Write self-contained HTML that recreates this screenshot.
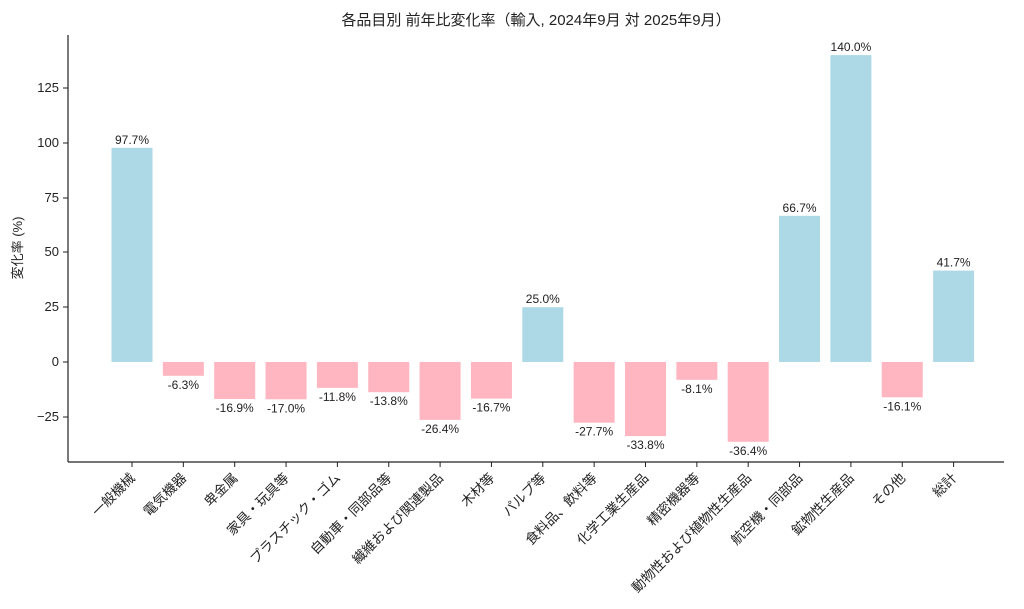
<!DOCTYPE html>
<html><head><meta charset="utf-8"><style>body{margin:0;background:#fff}svg{display:block}text{font-family:"Liberation Sans","Noto Sans CJK JP",sans-serif;fill:#222}</style></head><body>
<svg width="1024" height="609" viewBox="0 0 1024 609" xmlns="http://www.w3.org/2000/svg">
<text x="536" y="25" font-size="15" text-anchor="middle">各品目別 前年比変化率（輸入, 2024年9月 対 2025年9月）</text>
<g>
<rect x="111.5" y="147.8" width="41" height="214.2" fill="#add8e6"/>
<rect x="162.85" y="362" width="41" height="13.8" fill="#ffb6c1"/>
<rect x="214.2" y="362" width="41" height="37.0" fill="#ffb6c1"/>
<rect x="265.55" y="362" width="41" height="37.3" fill="#ffb6c1"/>
<rect x="316.9" y="362" width="41" height="25.9" fill="#ffb6c1"/>
<rect x="368.25" y="362" width="41" height="30.2" fill="#ffb6c1"/>
<rect x="419.6" y="362" width="41" height="57.9" fill="#ffb6c1"/>
<rect x="470.95" y="362" width="41" height="36.6" fill="#ffb6c1"/>
<rect x="522.3" y="307.2" width="41" height="54.8" fill="#add8e6"/>
<rect x="573.65" y="362" width="41" height="60.7" fill="#ffb6c1"/>
<rect x="625" y="362" width="41" height="74.1" fill="#ffb6c1"/>
<rect x="676.35" y="362" width="41" height="17.8" fill="#ffb6c1"/>
<rect x="727.7" y="362" width="41" height="79.8" fill="#ffb6c1"/>
<rect x="779.05" y="215.8" width="41" height="146.2" fill="#add8e6"/>
<rect x="830.4" y="55.1" width="41" height="306.9" fill="#add8e6"/>
<rect x="881.75" y="362" width="41" height="35.3" fill="#ffb6c1"/>
<rect x="933.1" y="270.6" width="41" height="91.4" fill="#add8e6"/>
</g>
<g font-size="12" text-anchor="middle">
<text x="132" y="143.8">97.7%</text>
<text x="183.35" y="388.8">-6.3%</text>
<text x="234.7" y="412">-16.9%</text>
<text x="286.05" y="412.3">-17.0%</text>
<text x="337.4" y="400.9">-11.8%</text>
<text x="388.75" y="405.2">-13.8%</text>
<text x="440.1" y="432.9">-26.4%</text>
<text x="491.45" y="411.6">-16.7%</text>
<text x="542.8" y="303.2">25.0%</text>
<text x="594.15" y="435.7">-27.7%</text>
<text x="645.5" y="449.1">-33.8%</text>
<text x="696.85" y="392.8">-8.1%</text>
<text x="748.2" y="454.8">-36.4%</text>
<text x="799.55" y="211.8">66.7%</text>
<text x="850.9" y="51.1">140.0%</text>
<text x="902.25" y="410.3">-16.1%</text>
<text x="953.6" y="266.6">41.7%</text>
</g>
<g stroke="#222">
<line x1="132" x2="132" y1="462" y2="467"/><line x1="183.35" x2="183.35" y1="462" y2="467"/><line x1="234.7" x2="234.7" y1="462" y2="467"/><line x1="286.05" x2="286.05" y1="462" y2="467"/><line x1="337.4" x2="337.4" y1="462" y2="467"/><line x1="388.75" x2="388.75" y1="462" y2="467"/><line x1="440.1" x2="440.1" y1="462" y2="467"/><line x1="491.45" x2="491.45" y1="462" y2="467"/><line x1="542.8" x2="542.8" y1="462" y2="467"/><line x1="594.15" x2="594.15" y1="462" y2="467"/><line x1="645.5" x2="645.5" y1="462" y2="467"/><line x1="696.85" x2="696.85" y1="462" y2="467"/><line x1="748.2" x2="748.2" y1="462" y2="467"/><line x1="799.55" x2="799.55" y1="462" y2="467"/><line x1="850.9" x2="850.9" y1="462" y2="467"/><line x1="902.25" x2="902.25" y1="462" y2="467"/><line x1="953.6" x2="953.6" y1="462" y2="467"/>
</g>
<g font-size="13.5" text-anchor="end">
<text transform="translate(129,472) rotate(-45)" dominant-baseline="hanging">一般機械</text>
<text transform="translate(180.35,472) rotate(-45)" dominant-baseline="hanging">電気機器</text>
<text transform="translate(231.7,472) rotate(-45)" dominant-baseline="hanging">卑金属</text>
<text transform="translate(283.05,472) rotate(-45)" dominant-baseline="hanging">家具・玩具等</text>
<text transform="translate(334.4,472) rotate(-45)" dominant-baseline="hanging">プラスチック・ゴム</text>
<text transform="translate(385.75,472) rotate(-45)" dominant-baseline="hanging">自動車・同部品等</text>
<text transform="translate(437.1,472) rotate(-45)" dominant-baseline="hanging">繊維および関連製品</text>
<text transform="translate(488.45,472) rotate(-45)" dominant-baseline="hanging">木材等</text>
<text transform="translate(539.8,472) rotate(-45)" dominant-baseline="hanging">パルプ等</text>
<text transform="translate(591.15,472) rotate(-45)" dominant-baseline="hanging">食料品、飲料等</text>
<text transform="translate(642.5,472) rotate(-45)" dominant-baseline="hanging">化学工業生産品</text>
<text transform="translate(693.85,472) rotate(-45)" dominant-baseline="hanging">精密機器等</text>
<text transform="translate(745.2,472) rotate(-45)" dominant-baseline="hanging">動物性および植物性生産品</text>
<text transform="translate(796.55,472) rotate(-45)" dominant-baseline="hanging">航空機・同部品</text>
<text transform="translate(847.9,472) rotate(-45)" dominant-baseline="hanging">鉱物性生産品</text>
<text transform="translate(899.25,472) rotate(-45)" dominant-baseline="hanging">その他</text>
<text transform="translate(950.6,472) rotate(-45)" dominant-baseline="hanging">総計</text>
</g>
<line x1="68" y1="35" x2="68" y2="462" stroke="#222" stroke-width="1.2"/>
<line x1="68" y1="462" x2="1004" y2="462" stroke="#222" stroke-width="1.2"/>
<g font-size="13" text-anchor="end">
<line x1="63" x2="68" y1="88" y2="88" stroke="#222"/><text x="59" y="92">125</text>
<line x1="63" x2="68" y1="143" y2="143" stroke="#222"/><text x="59" y="147">100</text>
<line x1="63" x2="68" y1="198" y2="198" stroke="#222"/><text x="59" y="202">75</text>
<line x1="63" x2="68" y1="252" y2="252" stroke="#222"/><text x="59" y="256">50</text>
<line x1="63" x2="68" y1="307" y2="307" stroke="#222"/><text x="59" y="311">25</text>
<line x1="63" x2="68" y1="362" y2="362" stroke="#222"/><text x="59" y="366">0</text>
<line x1="63" x2="68" y1="417" y2="417" stroke="#222"/><text x="59" y="421">−25</text>
</g>
<text transform="translate(22,248) rotate(-90)" font-size="13" text-anchor="middle">変化率 (%)</text>
</svg></body></html>
